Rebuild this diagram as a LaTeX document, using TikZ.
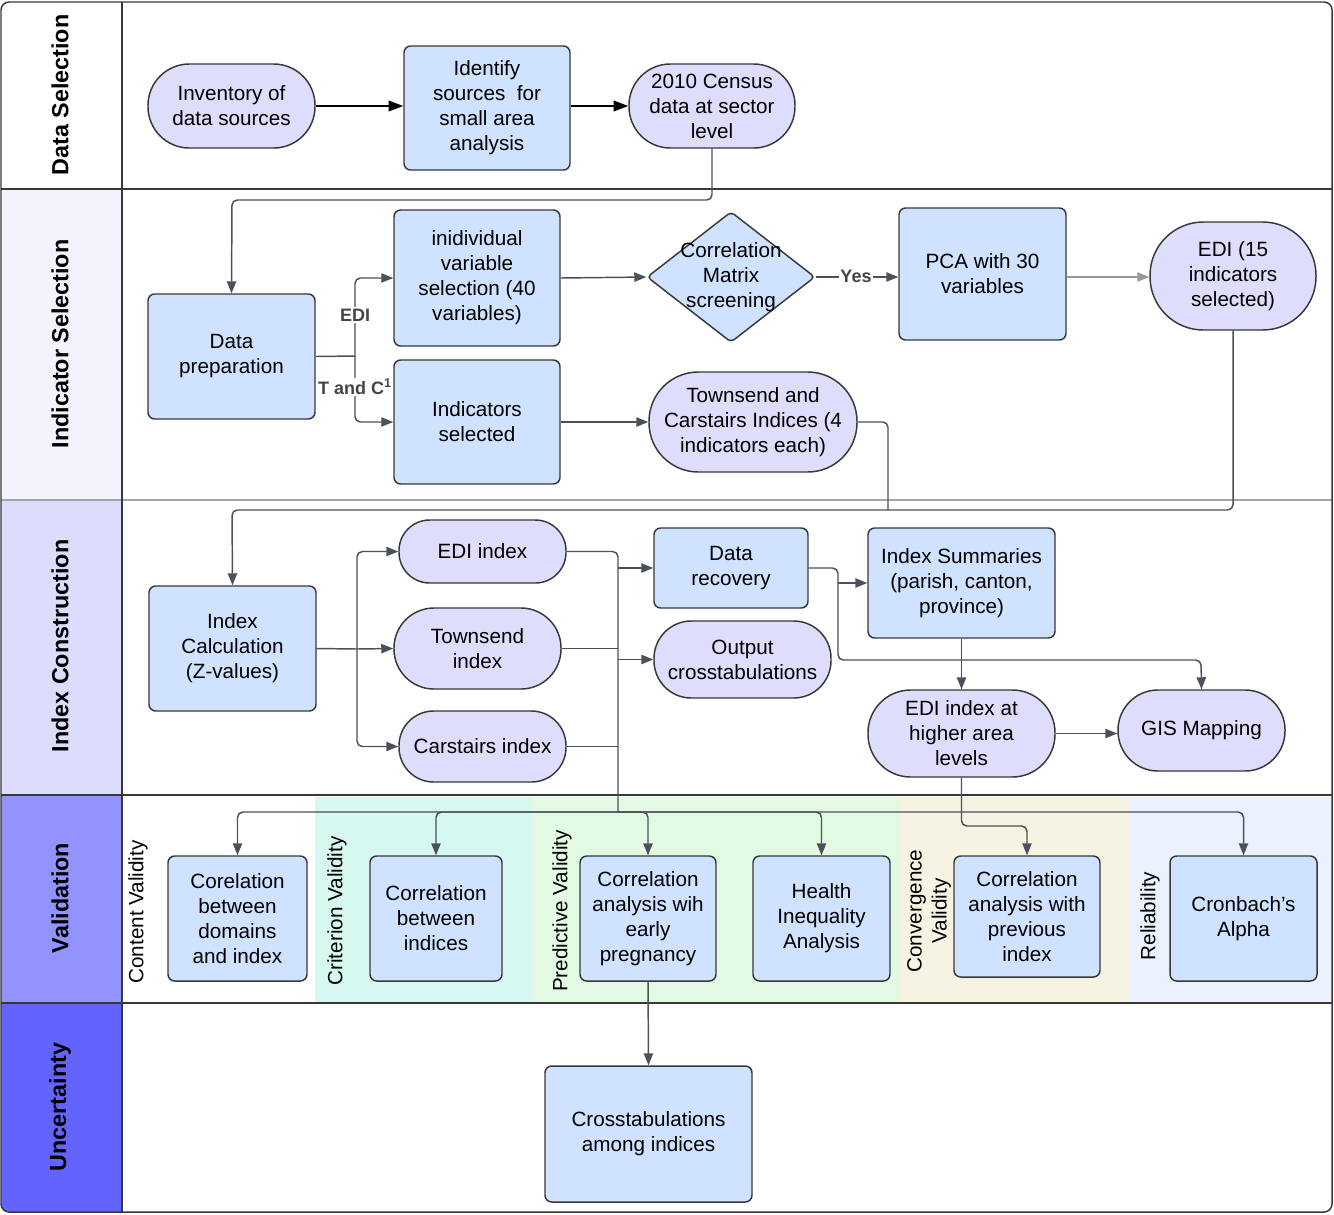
\documentclass[tikz,border=0pt]{standalone}
\usepackage{fontspec}
\setmainfont{Liberation Sans}
\usetikzlibrary{shapes.geometric,arrows.meta}
\definecolor{bd}{HTML}{383838}
\definecolor{cn}{HTML}{4B505B}
\definecolor{boxc}{HTML}{CFE2FF}
\definecolor{pillc}{HTML}{DEDEFC}
\definecolor{hdrB}{HTML}{F3F3FE}
\definecolor{hdrC}{HTML}{DCDCFC}
\definecolor{hdrD}{HTML}{9393FF}
\definecolor{hdrE}{HTML}{6363FF}
\definecolor{vcrit}{HTML}{D6F8F0}
\definecolor{vpred}{HTML}{E2F9E2}
\definecolor{vconv}{HTML}{F6F3E3}
\definecolor{vrel}{HTML}{EBF2FE}
\definecolor{lb}{HTML}{444444}
% #1 style, #2 name, #3 x1, #4 y1, #5 x2, #6 y2, #7 text
\newcommand\ndbox[7]{%
  \pgfmathsetmacro\ndcx{(#3+#5)/2}%
  \pgfmathsetmacro\ndcy{(#4+#6)/2}%
  \pgfmathsetmacro\ndw{(#5-#3)*0.75}%
  \pgfmathsetmacro\ndh{(#6-#4)*0.75}%
  \node[#1, minimum width=\ndw pt, minimum height=\ndh pt] (#2) at (\ndcx,\ndcy) {#7};}
\tikzset{
  base/.style={font=\fontsize{15.5}{18.75}\selectfont, align=center, inner sep=0pt, line width=1.1pt, draw=bd},
  box/.style={base, fill=boxc, rounded corners=5pt},
  pill/.style={base, fill=pillc},
  conn/.style={draw=cn, line width=1.1pt, rounded corners=4pt},
  arr/.style={conn, -{Triangle[length=9pt,width=7pt]}},
  arrk/.style={draw=black, line width=1.2pt, -{Triangle[length=11pt,width=8pt]}},
  lbl/.style={font=\bfseries\fontsize{13.5}{16}\selectfont, text=lb, fill=white, inner sep=1pt},
  lanetitle/.style={font=\bfseries\fontsize{17.5}{21}\selectfont, rotate=90},
  vlab/.style={font=\fontsize{15.5}{18.75}\selectfont, rotate=90, align=center, inner sep=0pt},
  laneline/.style={draw=bd, line width=1.1pt},
}
\begin{document}
\begin{tikzpicture}[x=0.75pt,y=-0.75pt]
\useasboundingbox (0,0) rectangle (1334,1214);
% backgrounds
\begin{scope}
\clip[rounded corners=6pt] (1,2) rectangle (1332,1212);
\fill[white] (1,2) rectangle (1332,1212);
\fill[hdrB] (1,189) rectangle (122,500);
\fill[hdrC] (1,500) rectangle (122,795);
\fill[hdrD] (1,795) rectangle (122,1003);
\fill[hdrE] (1,1003) rectangle (122,1212);
\fill[vcrit] (315,797) rectangle (532,1003);
\fill[vpred] (532,797) rectangle (900,1003);
\fill[vconv] (900,797) rectangle (1130,1003);
\fill[vrel] (1130,797) rectangle (1332,1003);
\end{scope}
\draw[laneline] (1,189) -- (1332,189);
\draw[draw=gray!70, line width=0.9pt] (1,500) -- (1332,500);
\draw[laneline] (1,795) -- (1332,795);
\draw[laneline] (1,1003) -- (1332,1003);
\draw[laneline] (122,2) -- (122,1212);
\draw[laneline, rounded corners=6pt] (1,2) rectangle (1332,1212);

% lane titles
\node[lanetitle] (t1) at (60,95) {Data Selection};
\node[lanetitle] (t2) at (60,344) {Indicator Selection};
\node[lanetitle] (t3) at (60,646) {Index Construction};
\node[lanetitle] (t4) at (60,898) {Validation};
\node[lanetitle] (t5) at (60,1107) {Uncertainty};

% validation column labels
\node[vlab] (v1) at (138,912) {Content Validity};
\node[vlab] (v2) at (337,911) {Criterion Validity};
\node[vlab] (v3) at (562,911) {Predictive Validity};
\node[vlab] (v4) at (929,911) {Convergence\\Validity};
\node[vlab] (v5) at (1150,916) {Reliability};

% Data selection
\ndbox{pill, rounded corners=31pt}{inv}{148}{64}{315}{148}{Inventory of\\data sources}
\ndbox{box}{ident}{404}{46}{570}{170}{Identify\\sources\ \ for\\small area\\analysis}
\ndbox{pill, rounded corners=31pt}{census}{629}{64}{795}{148}{2010 Census\\data at sector\\level}

% Indicator selection
\ndbox{box}{dprep}{148}{294}{315}{419}{Data\\preparation}
\ndbox{box}{indiv}{394}{210}{560}{346}{inidividual\\variable\\selection (40\\variables)}
\ndbox{box}{indsel}{394}{360}{560}{484}{Indicators\\selected}
\node[base, diamond, fill=boxc, minimum width=126pt, minimum height=98pt, rounded corners=3pt] (diam) at (731,277) {};
\node[font=\fontsize{15.5}{18.75}\selectfont, align=center, inner sep=0pt] (diamt) at (diam.center) {Correlation\\Matrix\\screening};
\ndbox{box}{pca}{899}{208}{1066}{340}{PCA with 30\\variables}
\ndbox{pill, rounded corners=40pt}{edi15}{1150}{222}{1316}{330}{EDI (15\\indicators\\selected)}
\ndbox{pill, rounded corners=37pt}{tc}{649}{372}{857}{472}{Townsend and\\Carstairs Indices (4\\indicators each)}

% Index construction
\ndbox{box}{icalc}{149}{586}{316}{711}{Index\\Calculation\\(Z-values)}
\ndbox{pill, rounded corners=23pt}{ediidx}{399}{520}{566}{583}{EDI index}
\ndbox{pill, rounded corners=30pt}{tw}{394}{608}{561}{689}{Townsend\\index}
\ndbox{pill, rounded corners=26pt}{car}{399}{711}{566}{782}{Carstairs index}
\ndbox{box}{drec}{654}{528}{808}{608}{Data\\recovery}
\ndbox{pill, rounded corners=28pt}{oc}{654}{621}{831}{698}{Output\\crosstabulations}
\ndbox{box}{isum}{868}{528}{1055}{638}{Index Summaries\\(parish, canton,\\province)}
\ndbox{pill, rounded corners=32pt}{edih}{868}{690}{1055}{777}{EDI index at\\higher area\\levels}
\ndbox{pill, rounded corners=30pt}{gis}{1118}{690}{1285}{771}{GIS Mapping}

% Validation
\ndbox{box}{dom}{168}{856}{307}{981}{Corelation\\between\\domains\\and index}
\ndbox{box}{cind}{370}{856}{502}{981}{Correlation\\between\\indices}
\ndbox{box}{preg}{580}{856}{716}{981}{Correlation\\analysis wih\\early\\pregnancy}
\ndbox{box}{hia}{753}{856}{890}{981}{Health\\Inequality\\Analysis}
\ndbox{box}{prev}{954}{856}{1100}{977}{Correlation\\analysis with\\previous\\index}
\ndbox{box}{cron}{1170}{856}{1317}{981}{Cronbach's\\Alpha}

% Uncertainty
\ndbox{box}{cross}{545}{1066}{752}{1202}{Crosstabulations\\among indices}

% coordinates
\coordinate (c1) at (232,200);
\coordinate (j1) at (355,356);
\coordinate (c2) at (888,510);
\coordinate (c3) at (232,510);
\coordinate (j2) at (357,649);
\coordinate (bus) at (618,812);
\coordinate (j3) at (838,583);
\coordinate (c5) at (1201,660);
\coordinate (c4) at (1027,826);

% connectors: data selection
\draw[arrk] (inv.east) -- (ident.west |- inv.east);
\draw[arrk] (ident.east |- census.west) -- (census.west);
\draw[arr] (census.south) |- (c1) -- (dprep.north);

% indicator selection
\draw[conn] (dprep.east) -- (j1);
\draw[arr] (j1) |- (indiv.west);
\draw[arr] (j1) |- (indsel.west);
\node[lbl] (ledi) at (355,315) {EDI};
\node[lbl] (ltc) at (355,387) {T and C\textsuperscript{1}};
\draw[arr] (indiv.east) -- (diam.west);
\draw[arr] (diam.east) -- (pca.west |- diam.east);
\node[lbl] (lyes) at (856,276) {Yes};
\draw[arr, draw=gray!80] (pca.east |- diam.east) -- (edi15.west |- diam.east);
\draw[arr] (indsel.east) -- (tc.west |- indsel.east);
\draw[conn] (tc.east) -| (c2);
\draw[arr] (edi15.south) |- (c3) -- (icalc.north);

% index construction
\draw[conn] (icalc.east) -- (j2);
\draw[arr] (j2) |- (ediidx.west);
\draw[arr] (j2) -- (tw.west);
\draw[arr] (j2) |- (car.west);
\draw[conn] (ediidx.east) -| (bus);
\draw[conn] (tw.east) -- (tw.east -| bus);
\draw[conn] (car.east) -- (car.east -| bus);
\draw[arr] (drec.west -| bus) -- (drec.west);
\draw[arr] (oc.west -| bus) -- (oc.west);
\draw[conn] (drec.east) -| (j3);
\draw[arr] (j3) -- (isum.west);
\draw[arr] (j3) |- (c5) -- (gis.north);
\draw[arr] (isum.south) -- (edih.north);
\draw[arr] (edih.east) -- (edih.east -| gis.west);

% validation
\draw[arr] (bus) -| (dom.north);
\draw[arr] (bus) -| (cind.north);
\draw[arr] (bus) -| (preg.north);
\draw[arr] (bus) -| (hia.north);
\draw[arr] (bus) -| (cron.north);
\draw[arr] (edih.south) |- (c4) -- (prev.north);
\draw[arr] (preg.south) -- (cross.north);
\end{tikzpicture}
\end{document}
